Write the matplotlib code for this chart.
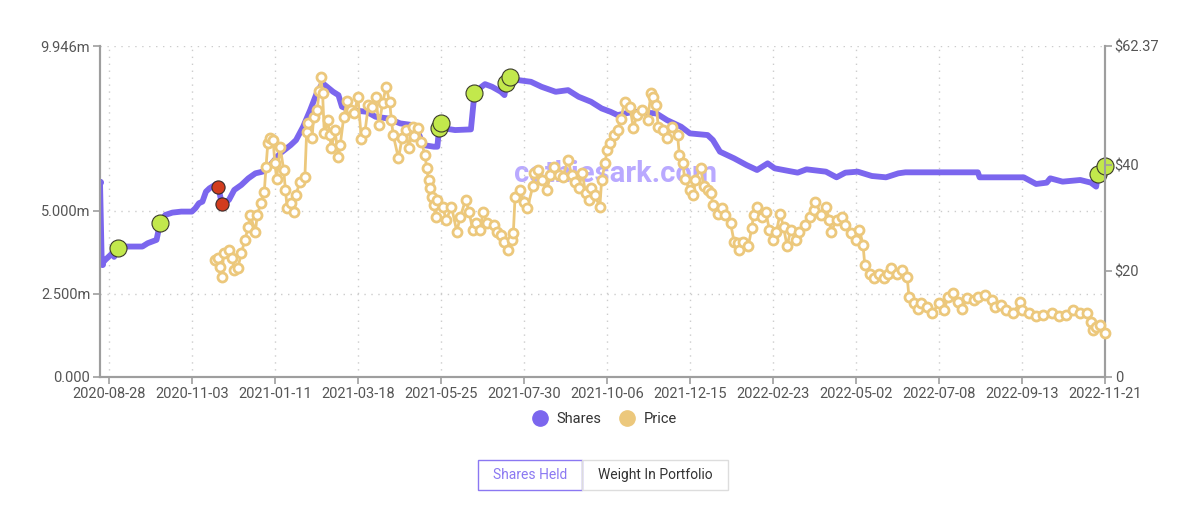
import matplotlib.pyplot as plt
from matplotlib.lines import Line2D
from matplotlib.patches import Rectangle

plt.rcParams['font.family'] = ['Roboto', 'DejaVu Sans']

# trading-day index of each tick label
tick_days = [5 + 47 * k for k in range(13)]
tick_labels = ["2020-08-28", "2020-11-03", "2021-01-11", "2021-03-18", "2021-05-25",
               "2021-07-30", "2021-10-06", "2021-12-15", "2022-02-23", "2022-05-02",
               "2022-07-08", "2022-09-13", "2022-11-21"]

# shares held (millions)
share_days = [0, 1, 3, 7, 8, 10, 14, 24, 27, 32, 34, 37, 41, 46, 52, 54, 56, 58, 60, 62,
              66, 67, 69, 73, 76, 80, 84, 88, 92, 94, 102, 108, 111, 115, 119, 123, 126,
              132, 135, 137, 142, 151, 156, 163, 170, 177, 180, 183, 189, 191, 192, 193,
              195, 201, 210, 212, 216, 218, 222, 227, 229, 230, 232, 237, 244, 250, 258,
              265, 271, 278, 284, 289, 293, 302, 315, 321, 329, 334, 344, 347, 351, 359,
              366, 372, 378, 382, 395, 400, 411, 417, 422, 429, 437, 445, 452, 456, 497,
              498, 523, 530, 536, 538, 545, 555, 561, 564, 565, 569]
shares = [5.87, 3.40, 3.52, 3.72, 3.61, 3.87, 3.92, 3.92, 4.02, 4.12, 4.62, 4.87, 4.94,
          4.97, 4.97, 5.07, 5.22, 5.27, 5.57, 5.67, 5.80, 5.70, 5.20, 5.32, 5.62, 5.77,
          5.97, 6.12, 6.17, 6.22, 6.72, 6.97, 7.12, 7.52, 8.02, 8.57, 8.83, 8.57, 8.47,
          8.12, 8.02, 7.97, 7.82, 7.77, 7.62, 7.57, 7.37, 6.97, 6.92, 6.92, 7.47, 7.62,
          7.47, 7.42, 7.44, 8.52, 8.72, 8.80, 8.72, 8.57, 8.47, 8.83, 9.02, 8.92, 8.87,
          8.72, 8.57, 8.62, 8.42, 8.27, 8.07, 7.97, 7.87, 7.97, 7.92, 7.72, 7.52, 7.32,
          7.27, 7.12, 6.77, 6.57, 6.37, 6.22, 6.42, 6.27, 6.14, 6.24, 6.17, 6.00, 6.14,
          6.17, 6.04, 6.00, 6.12, 6.15, 6.15, 6.00, 6.00, 5.80, 5.84, 5.97, 5.87, 5.92,
          5.84, 5.72, 6.10, 6.34]

# buy / sell events
buy_days = [10, 34, 192, 193, 212, 230, 232, 565, 569]
buy_shares = [3.87, 4.62, 7.47, 7.62, 8.52, 8.83, 9.02, 6.10, 6.34]
sell_days = [67, 69]
sell_shares = [5.70, 5.20]

# share price ($)
price_days = [65, 67, 68, 69, 70, 73, 75, 76, 78, 80, 82, 84, 85, 88, 89, 91, 93, 94, 95,
              96, 98, 99, 100, 102, 104, 105, 106, 108, 110, 111, 113, 116, 117, 118, 120,
              121, 123, 124, 125, 126, 127, 129, 130, 131, 133, 135, 136, 138, 140, 142,
              144, 146, 148, 150, 152, 154, 156, 158, 160, 162, 164, 165, 166, 169, 171,
              173, 175, 177, 178, 180, 182, 184, 185, 186, 187, 188, 189, 190, 191, 194,
              196, 199, 202, 204, 207, 209, 211, 213, 215, 217, 219, 223, 225, 227, 229,
              231, 233, 234, 235, 238, 240, 242, 245, 246, 248, 250, 253, 255, 257, 260,
              262, 265, 267, 269, 271, 273, 275, 277, 278, 280, 283, 284, 286, 287, 289,
              291, 293, 295, 297, 300, 302, 304, 307, 310, 312, 313, 315, 316, 319, 321,
              324, 327, 328, 330, 331, 334, 336, 337, 340, 342, 344, 346, 347, 350, 352,
              354, 357, 359, 361, 362, 364, 367, 369, 370, 372, 375, 377, 379, 381, 383,
              385, 387, 389, 391, 394, 396, 399, 402, 404, 405, 408, 411, 413, 414, 417,
              420, 422, 425, 428, 430, 432, 433, 436, 438, 441, 444, 446, 448, 451, 454,
              457, 458, 461, 463, 465, 468, 471, 475, 478, 480, 483, 486, 488, 491, 495,
              497, 501, 505, 507, 510, 513, 517, 521, 522, 526, 530, 534, 539, 543, 547,
              551, 555, 559, 561, 562, 564, 566, 569]
price = [22.0, 22.4, 20.8, 18.8, 23.3, 23.9, 22.4, 20.2, 20.5, 23.3, 25.8, 28.3, 30.5,
         27.4, 30.5, 32.7, 34.9, 39.6, 44.0, 45.0, 44.7, 40.3, 37.4, 43.4, 39.0, 35.2,
         31.8, 32.7, 31.1, 34.3, 36.7, 37.7, 46.2, 47.8, 45.0, 49.0, 50.3, 53.8, 56.6,
         53.5, 45.9, 48.4, 45.6, 43.1, 46.5, 41.5, 43.7, 49.0, 52.1, 50.3, 49.7, 52.8,
         44.8, 46.2, 51.3, 50.9, 52.8, 47.5, 51.6, 54.7, 51.8, 48.4, 45.6, 41.2, 45.0,
         46.5, 43.1, 47.2, 45.4, 46.9, 44.3, 41.8, 39.3, 37.1, 35.6, 34.0, 32.4, 30.2,
         33.4, 32.1, 29.6, 32.1, 27.4, 30.2, 33.4, 31.1, 27.7, 29.0, 27.7, 31.1, 29.0,
         28.6, 27.4, 26.8, 25.5, 23.9, 25.8, 27.1, 34.0, 35.2, 33.0, 31.8, 35.9, 38.4,
         39.0, 37.1, 35.2, 38.1, 39.6, 38.1, 37.7, 40.9, 38.1, 36.8, 35.6, 38.4, 34.6,
         33.4, 35.6, 34.3, 32.1, 37.1, 40.3, 42.8, 44.0, 45.6, 46.5, 48.7, 51.9, 50.9,
         46.9, 49.4, 50.3, 48.4, 53.5, 52.8, 51.3, 47.2, 46.5, 45.0, 47.2, 45.6, 41.8,
         40.3, 37.4, 35.2, 34.3, 37.1, 39.3, 35.9, 35.2, 34.6, 32.4, 30.8, 31.8, 30.5,
         29.0, 25.5, 25.2, 23.9, 25.5, 24.6, 28.0, 30.5, 32.1, 30.2, 31.1, 27.7, 25.8,
         27.4, 30.8, 28.3, 24.6, 27.7, 25.8, 27.4, 28.6, 30.2, 31.5, 33.0, 30.5, 32.1,
         29.6, 27.4, 29.6, 30.2, 28.6, 27.1, 25.8, 27.7, 24.9, 21.1, 19.5, 18.6, 19.5,
         18.6, 19.5, 20.5, 19.5, 20.2, 18.9, 15.1, 13.9, 12.9, 13.9, 13.2, 12.0, 13.9,
         12.6, 15.1, 15.8, 14.2, 12.9, 14.8, 14.5, 15.1, 15.5, 14.5, 13.2, 13.6, 12.6,
         12.0, 14.2, 12.6, 12.0, 11.4, 11.7, 12.0, 11.4, 11.7, 12.6, 12.0, 12.0, 10.4,
         8.9, 9.5, 9.8, 8.3]

share_ticks = [0, 2.5, 5.0, 9.946]
share_tick_labels = ["0.000", "2.500m", "5.000m", "9.946m"]
price_ticks = [0, 20, 40, 62.37]
price_tick_labels = ["0", "$20", "$40", "$62.37"]

PURPLE = '#7b66ee'
GOLD = '#ecc87c'
GRAY = '#9e9e9e'
TXT = '#555555'

fig = plt.figure(figsize=(12.01, 5.08), dpi=100)
ax = fig.add_axes([100 / 1201, 131 / 508, 1005 / 1201, 331 / 508])
ax2 = ax.twinx()

ax.set_xlim(0, 569)
ax.set_ylim(0, share_ticks[-1])
ax2.set_ylim(0, price_ticks[-1])

# watermark under the lines
ax.text(0.513, 0.613, "cathiesark.com", transform=ax.transAxes, ha='center', va='center',
        fontsize=21, fontweight='bold', color='#b9a9ff', zorder=0)

ax.plot(share_days, shares, color=PURPLE, lw=4.2, solid_capstyle='round',
        solid_joinstyle='round', zorder=2)
ax.plot(share_days[:2], shares[:2], 'o', color=PURPLE, ms=4, zorder=2)
ax.scatter(buy_days, buy_shares, s=150, color='#c2e84c', edgecolors='#3a3a2a',
           linewidths=0.8, zorder=5, clip_on=False)
ax.scatter(sell_days, sell_shares, s=90, color='#d23c1e', edgecolors='#3a2a2a',
           linewidths=0.8, zorder=5, clip_on=False)

ax2.plot(price_days, price, color=GOLD, lw=2, marker='o', ms=6.5, mfc='white',
         mec=GOLD, mew=2, zorder=3, clip_on=False)

# grid
for y in share_ticks[1:]:
    ax.axhline(y, color='#cccccc', lw=1, ls=(0, (1, 4)), zorder=1)
for x in tick_days:
    ax.axvline(x, color='#cccccc', lw=1, ls=(0, (1, 4)), zorder=1)

ax.set_xticks(tick_days)
ax.set_xticklabels(tick_labels)
ax.set_yticks(share_ticks)
ax.set_yticklabels(share_tick_labels)
ax2.set_yticks(price_ticks)
ax2.set_yticklabels(price_tick_labels)

for a in (ax, ax2):
    a.tick_params(colors=GRAY, labelcolor=TXT, labelsize=10.5, length=5, width=1.2, pad=2)
    a.spines['top'].set_visible(False)
    for s in ('left', 'right', 'bottom'):
        a.spines[s].set_color(GRAY)
        a.spines[s].set_linewidth(1.5)
ax2.set_zorder(ax.get_zorder() + 1)
ax2.patch.set_visible(False)

# legend
handles = [Line2D([], [], ls='none', marker='o', ms=11, color=PURPLE),
           Line2D([], [], ls='none', marker='o', ms=11, color=GOLD)]
fig.legend(handles, ["Shares", "Price"], loc='center', bbox_to_anchor=(601 / 1201, 1 - 419 / 508),
           ncol=2, frameon=False, fontsize=10.5, handletextpad=0.1, columnspacing=0.8,
           labelcolor='#333333')

# toggle buttons
fig.patches.append(Rectangle((478 / 1201, 1 - 490 / 508), 104 / 1201, 30 / 508,
                             transform=fig.transFigure, fill=False, ec='#8b78f2', lw=1))
fig.patches.append(Rectangle((582 / 1201, 1 - 490 / 508), 146 / 1201, 30 / 508,
                             transform=fig.transFigure, fill=False, ec='#dddddd', lw=1))
fig.text(530 / 1201, 1 - 475 / 508, "Shares Held", ha='center', va='center',
         fontsize=10, color='#8b78f2')
fig.text(655 / 1201, 1 - 475 / 508, "Weight In Portfolio", ha='center', va='center',
         fontsize=10, color='#333333')

fig.savefig("out.png", dpi=100)
